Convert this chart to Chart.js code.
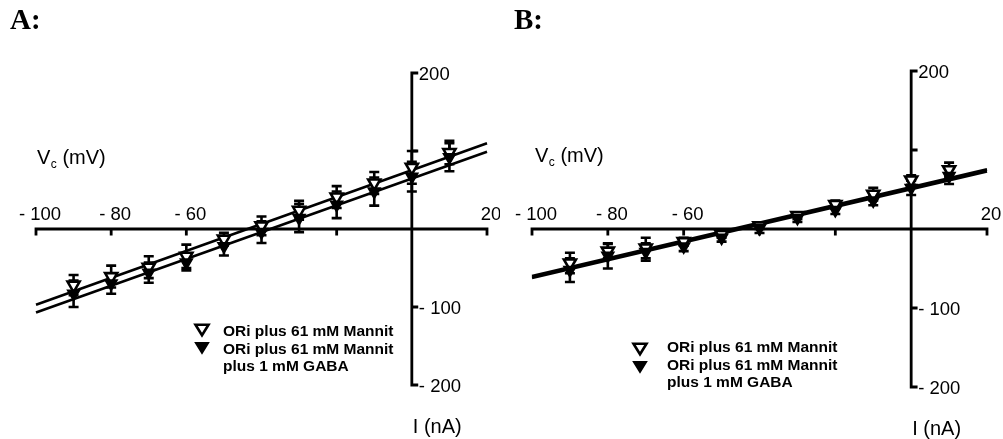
<!DOCTYPE html>
<html><head><meta charset="utf-8">
<script src="https://cdn.jsdelivr.net/npm/chart.js@4.4.1/dist/chart.umd.min.js"></script>
<style>
html,body{margin:0;padding:0;background:#fff;}
body{width:1003px;height:439px;position:relative;overflow:hidden;}
.panel{position:absolute;top:0;height:439px;}
.title{position:absolute;font-family:"Liberation Serif","Times New Roman",serif;font-weight:bold;font-size:29px;color:#000;line-height:1;}
</style></head><body>
<div class="panel" style="left:0;width:500px"><canvas id="cA"></canvas></div>
<div class="panel" style="left:500px;width:503px"><canvas id="cB"></canvas></div>
<div class="title" style="left:10px;top:5px">A:</div>
<div class="title" style="left:514px;top:5px">B:</div>
<script>
// ---- data ----
const voltages = [-90, -80, -70, -60, -50, -40, -30, -20, -10, 0, 10];

const A_mannit      = [-72, -61, -49, -35, -13, 4, 24, 41, 59, 79, 98];
const A_mannit_err  = [13, 14, 14, 15, 8, 12, 12, 14, 14, 21, 15];
const A_gaba        = [-83, -70, -56, -43, -22, -4, 14, 31, 48, 67, 92];
const A_gaba_err    = [17, 13, 13, 10, 12, 14, 18, 17, 18, 19, 18];

const B_mannit      = [-43, -28, -24, -16, -7, 4, 17, 31, 44, 62, 75];
const B_mannit_err  = [13, 9, 13, 5, 4, 4, 4, 5, 8, 6, 9];
const B_gaba        = [-52, -34, -29, -22, -11, 1, 14, 24, 36, 52, 67];
const B_gaba_err    = [15, 16, 11, 6, 5, 6, 5, 5, 6, 9, 10];

const fitX          = [-100, 20];
const A_fit_mannit  = [-97, 110];
const A_fit_gaba    = [-107, 99];
const B_fit_mannit  = [-59.5, 75.5];
const B_fit_gaba    = [-62, 73];

const xTicks      = [-100, -80, -60, -40, -20, 0, 20];
const xTickLabels = ['- 100', '- 80', '- 60', '', '', '', '20'];
const yTicks      = [-200, -100, 100, 200];
const yTickLabels = ['- 200', '- 100', '', '200'];

const legendMannit = ['ORi plus 61 mM Mannit'];
const legendGaba   = ['ORi plus 61 mM Mannit', 'plus 1 mM GABA'];
const xAxisTitle = ['V', 'c', ' (mV)'];
const yAxisTitle = 'I (nA)';

// ---- plugins ----
const SANS = '"Liberation Sans", Arial, sans-serif';

const crossAxes = {
  id: 'crossAxes',
  beforeDatasetsDraw(chart, args, o) {
    const {ctx, scales: {x, y}} = chart;
    const x0 = x.getPixelForValue(0), y0 = y.getPixelForValue(0);
    ctx.save();
    ctx.strokeStyle = '#000';
    ctx.lineWidth = 2.8;
    ctx.lineCap = 'square';
    ctx.beginPath();
    ctx.moveTo(x.getPixelForValue(xTicks[0]), y0);
    ctx.lineTo(x.getPixelForValue(xTicks[xTicks.length - 1]), y0);
    xTicks.forEach(v => { const px = x.getPixelForValue(v); ctx.moveTo(px, y0); ctx.lineTo(px, y0 + 5); });
    ctx.moveTo(x0, y.getPixelForValue(yTicks[0]));
    ctx.lineTo(x0, y.getPixelForValue(yTicks[yTicks.length - 1]));
    yTicks.forEach(v => { const py = y.getPixelForValue(v); ctx.moveTo(x0, py); ctx.lineTo(x0 + 5, py); });
    ctx.stroke();

    ctx.fillStyle = '#000';
    ctx.font = '18.5px ' + SANS;
    ctx.textAlign = 'center';
    ctx.textBaseline = 'alphabetic';
    xTicks.forEach((v, i) => {
      if (xTickLabels[i]) ctx.fillText(xTickLabels[i], x.getPixelForValue(v) + 4, y0 - 9);
    });
    ctx.textAlign = 'left';
    yTicks.forEach((v, i) => {
      if (yTickLabels[i]) ctx.fillText(yTickLabels[i], x0 + 7, y.getPixelForValue(v) + 6.6);
    });

    // axis titles
    ctx.font = '20px ' + SANS;
    let tx = o.vcX;
    ctx.fillText(xAxisTitle[0], tx, o.vcY);
    tx += ctx.measureText(xAxisTitle[0]).width;
    ctx.font = '12px ' + SANS;
    ctx.fillText(xAxisTitle[1], tx + 0.5, o.vcY + 4);
    tx += ctx.measureText(xAxisTitle[1]).width + 0.5;
    ctx.font = '20px ' + SANS;
    ctx.fillText(xAxisTitle[2], tx, o.vcY);
    ctx.fillText(yAxisTitle, x0 + 1, y.getPixelForValue(yTicks[0]) + 48);
    ctx.restore();
  }
};

const errorBars = {
  id: 'errorBars',
  beforeDatasetsDraw(chart) {
    const {ctx, scales: {x, y}} = chart;
    ctx.save();
    ctx.strokeStyle = '#000';
    ctx.lineWidth = 2.6;
    chart.data.datasets.forEach(ds => {
      if (!ds.errors) return;
      ds.data.forEach((pt, j) => {
        const e = ds.errors[j];
        const px = x.getPixelForValue(pt.x);
        const t = y.getPixelForValue(pt.y + e), b = y.getPixelForValue(pt.y - e);
        ctx.beginPath();
        ctx.moveTo(px, t); ctx.lineTo(px, b);
        ctx.moveTo(px - 5, t); ctx.lineTo(px + 5, t);
        ctx.moveTo(px - 5, b); ctx.lineTo(px + 5, b);
        ctx.stroke();
      });
    });
    ctx.restore();
  }
};

function tri(ctx, cx, cy, filled) {
  const w = 13, h = 10.5;
  ctx.beginPath();
  ctx.moveTo(cx - w / 2, cy - h / 2);
  ctx.lineTo(cx + w / 2, cy - h / 2);
  ctx.lineTo(cx, cy + h / 2);
  ctx.closePath();
  if (filled) { ctx.fillStyle = '#000'; ctx.fill(); ctx.lineWidth = 1.5; ctx.strokeStyle = '#000'; ctx.stroke(); }
  else { ctx.fillStyle = '#fff'; ctx.fill(); ctx.lineWidth = 2.6; ctx.strokeStyle = '#000'; ctx.stroke(); }
}

const figLegend = {
  id: 'figLegend',
  afterDraw(chart, args, o) {
    const ctx = chart.ctx;
    ctx.save();
    tri(ctx, o.markerX, o.markerY[0], false);
    tri(ctx, o.markerX, o.markerY[1], true);
    ctx.fillStyle = '#000';
    ctx.font = 'bold 15.5px ' + SANS;
    ctx.textAlign = 'left';
    ctx.textBaseline = 'alphabetic';
    const lines = legendMannit.concat(legendGaba);
    lines.forEach((s, i) => ctx.fillText(s, o.textX, o.baselines[i]));
    ctx.restore();
  }
};

function pts(xs, ys) { return xs.map((v, i) => ({x: v, y: ys[i]})); }

function makeChart(id, pad, d, legendOpts, axesOpts, fitWidth) {
  return new Chart(document.getElementById(id), {
    type: 'scatter',
    data: {
      datasets: [
        {label: 'Mannit', data: pts(voltages, d.m), errors: d.me, pointStyle: 'triangle', pointRotation: 180,
         pointRadius: 7, backgroundColor: '#fff', borderColor: '#000', borderWidth: 2.6, order: 2, clip: false},
        {label: 'GABA', data: pts(voltages, d.g), errors: d.ge, pointStyle: 'triangle', pointRotation: 180,
         pointRadius: 7, backgroundColor: '#000', borderColor: '#000', borderWidth: 1.5, order: 1, clip: false},
        {label: 'fit Mannit', data: pts(fitX, d.fm), showLine: true, pointRadius: 0, borderColor: '#000',
         borderWidth: fitWidth, order: 3, clip: false},
        {label: 'fit GABA', data: pts(fitX, d.fg), showLine: true, pointRadius: 0, borderColor: '#000',
         borderWidth: fitWidth, order: 4, clip: false}
      ]
    },
    options: {
      responsive: true,
      maintainAspectRatio: false,
      animation: false,
      events: [],
      layout: {padding: pad},
      scales: {
        x: {type: 'linear', min: -100, max: 20, display: false},
        y: {type: 'linear', min: -200, max: 200, display: false}
      },
      plugins: {
        legend: {display: false},
        tooltip: {enabled: false},
        figLegend: legendOpts,
        crossAxes: axesOpts
      }
    },
    plugins: [crossAxes, errorBars, figLegend]
  });
}

makeChart('cA', {left: 36, right: 13, top: 73, bottom: 54},
  {m: A_mannit, me: A_mannit_err, g: A_gaba, ge: A_gaba_err, fm: A_fit_mannit, fg: A_fit_gaba},
  {markerX: 202, markerY: [330, 348], textX: 223, baselines: [335.5, 353.5, 370.5]},
  {vcX: 37, vcY: 164}, 2.6);

makeChart('cB', {left: 32, right: 16, top: 71, bottom: 52},
  {m: B_mannit, me: B_mannit_err, g: B_gaba, ge: B_gaba_err, fm: B_fit_mannit, fg: B_fit_gaba},
  {markerX: 140, markerY: [349, 367], textX: 167, baselines: [351.5, 370, 387]},
  {vcX: 35, vcY: 162}, 2.8);
</script>
</body></html>
